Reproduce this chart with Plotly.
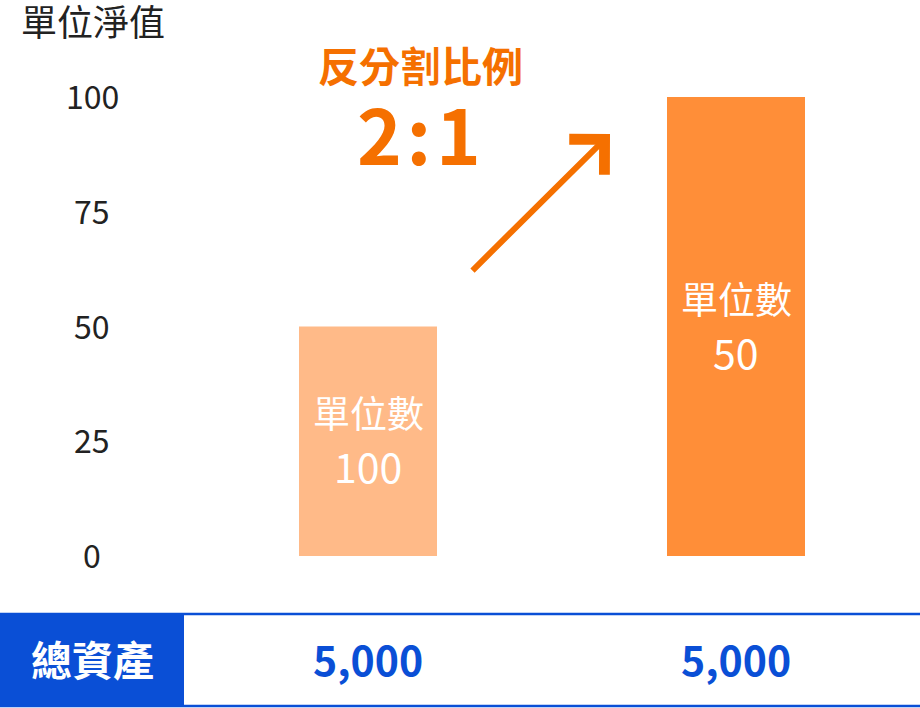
import plotly.graph_objects as go

# ---- data ----
categories = ["反分割前", "反分割後"]
nav_values = [50, 100]          # 單位淨值
unit_counts = [100, 50]         # 單位數
total_assets = [5000, 5000]     # 總資產
y_ticks = [0, 25, 50, 75, 100]
bar_colors = ["#FFBA88", "#FF8E38"]

FONT = "Noto Sans CJK TC"
ORANGE = "#F57000"
BLUE = "#0A4FD6"
DARK = "#222222"

W, H = 920, 708
L, R, T, B = 184, 0, 40, 152
plot_w = W - L - R
plot_h = H - T - B
px_per_unit = 4.59
y_top = plot_h / px_per_unit


def px_to_paper_x(px):
    return (px - L) / plot_w


def px_to_paper_y(py):
    return (H - B - py) / plot_h


x_pos = list(range(len(categories)))

fig = go.Figure()
fig.add_trace(go.Bar(
    x=x_pos,
    y=nav_values,
    width=0.375,
    marker=dict(color=bar_colors, line=dict(width=0)),
    hoverinfo="skip",
))

annotations = []
# labels inside bars
for xi, v, u in zip(x_pos, nav_values, unit_counts):
    annotations.append(dict(
        x=xi, xref="x", y=v / 2, yref="y", yshift=29,
        text="單位數", showarrow=False, xanchor="center", yanchor="middle",
        font=dict(family=FONT, size=37, color="white"),
    ))
    annotations.append(dict(
        x=xi, xref="x", y=v / 2, yref="y", yshift=-24,
        text=str(u), showarrow=False, xanchor="center", yanchor="middle",
        font=dict(family=FONT, size=41, color="white"),
    ))
# y tick labels (centered)
for v in y_ticks:
    annotations.append(dict(
        x=px_to_paper_x(92), xref="paper", y=v, yref="y", yshift=2,
        text=str(v), showarrow=False, xanchor="center", yanchor="middle",
        font=dict(family=FONT, size=32, color=DARK),
    ))
# axis title
annotations.append(dict(
    x=px_to_paper_x(19), xref="paper", y=px_to_paper_y(20), yref="paper",
    text="單位淨值", showarrow=False, xanchor="left", yanchor="middle",
    font=dict(family=FONT, size=36, color=DARK),
))
# reverse split label
annotations.append(dict(
    x=px_to_paper_x(420), xref="paper", y=px_to_paper_y(64), yref="paper",
    text="反分割比例", showarrow=False, xanchor="center", yanchor="middle",
    font=dict(family=FONT, size=41, color=ORANGE, weight="bold"),
))
annotations.append(dict(
    x=px_to_paper_x(419), xref="paper", y=px_to_paper_y(132), yref="paper",
    text="2\u200a:\u200a1", showarrow=False, xanchor="center", yanchor="middle",
    font=dict(family=FONT, size=76, color=ORANGE, weight="bold"),
))
# arrow
annotations.append(dict(
    x=px_to_paper_x(610), xref="paper", y=px_to_paper_y(134), yref="paper",
    ax=471 - 610, ay=272 - 134, axref="pixel", ayref="pixel",
    text="", showarrow=True, arrowhead=4, arrowsize=1.6, arrowwidth=6,
    arrowcolor=ORANGE, standoff=0,
))
# table row
annotations.append(dict(
    x=px_to_paper_x(92), xref="paper", y=px_to_paper_y(658), yref="paper",
    text="總資產", showarrow=False, xanchor="center", yanchor="middle",
    font=dict(family=FONT, size=41, color="white", weight="bold"),
))
for xi, ta in zip(x_pos, total_assets):
    annotations.append(dict(
        x=xi, xref="x", y=px_to_paper_y(658), yref="paper",
        text=f"{ta:,}", showarrow=False, xanchor="center", yanchor="middle",
        font=dict(family=FONT, size=41, color=BLUE, weight="bold"),
    ))

shapes = [
    dict(type="rect", xref="paper", yref="paper",
         x0=px_to_paper_x(0), x1=px_to_paper_x(184),
         y0=px_to_paper_y(613), y1=px_to_paper_y(706),
         fillcolor=BLUE, line=dict(width=0), layer="above"),
    dict(type="line", xref="paper", yref="paper",
         x0=px_to_paper_x(0), x1=px_to_paper_x(920),
         y0=px_to_paper_y(614), y1=px_to_paper_y(614),
         line=dict(color=BLUE, width=2.5), layer="above"),
    dict(type="line", xref="paper", yref="paper",
         x0=px_to_paper_x(0), x1=px_to_paper_x(920),
         y0=px_to_paper_y(706), y1=px_to_paper_y(706),
         line=dict(color=BLUE, width=2.5), layer="above"),
]

fig.update_layout(
    width=W, height=H,
    margin=dict(l=L, r=R, t=T, b=B, pad=0),
    paper_bgcolor="white", plot_bgcolor="white",
    showlegend=False,
    xaxis=dict(range=[-0.5, 1.5], showticklabels=False, showgrid=False,
               zeroline=False, showline=False, fixedrange=True),
    yaxis=dict(range=[0, y_top], showticklabels=False, showgrid=False,
               zeroline=False, showline=False, fixedrange=True,
               tickvals=y_ticks),
    annotations=annotations,
    shapes=shapes,
    font=dict(family=FONT),
)

fig.write_html(
    "out.html",
    config={"displayModeBar": False},
    post_script="document.body.style.margin='0';document.body.style.overflow='hidden';",
)
